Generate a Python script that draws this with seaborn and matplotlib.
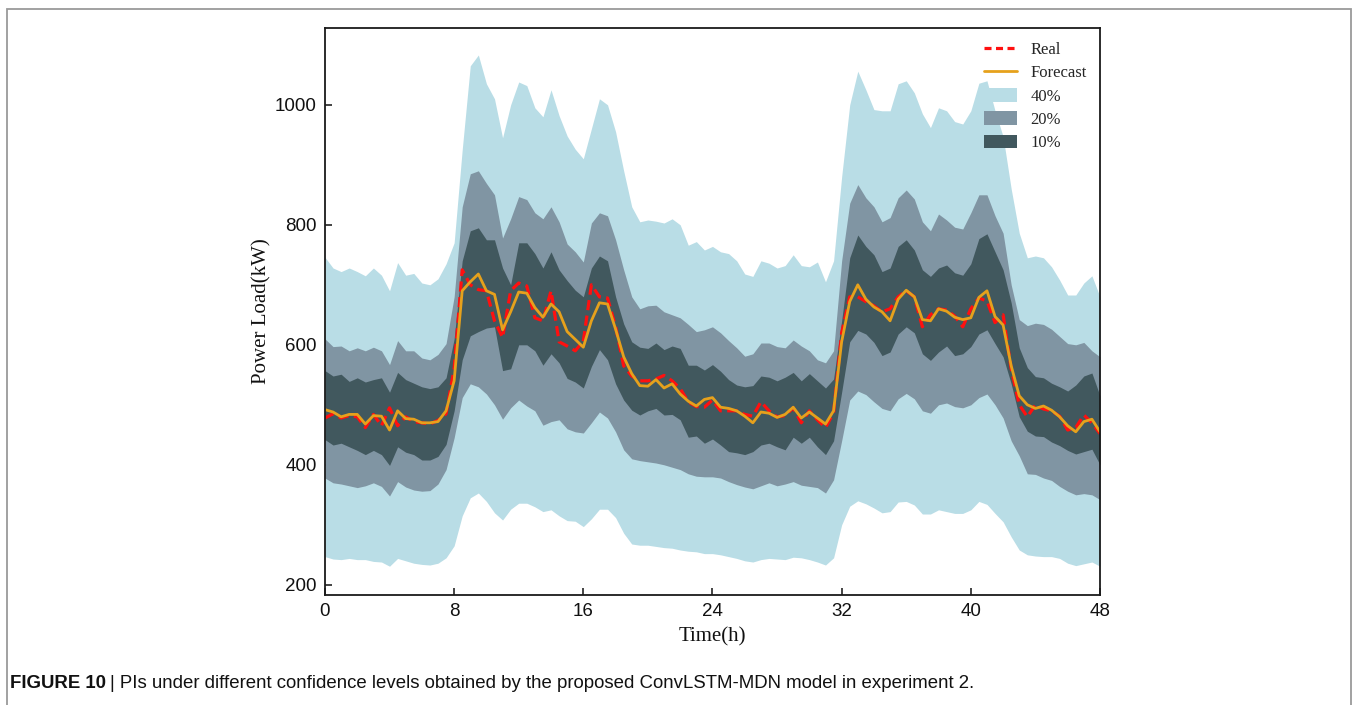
import numpy as np
import matplotlib
matplotlib.use("Agg")
import matplotlib.pyplot as plt
from matplotlib.patches import Patch, Rectangle
from matplotlib.lines import Line2D
import seaborn as sns

# Half-hourly time axis over two days
hours = np.arange(0, 48.5, 0.5)

real = [
    478, 485, 478, 482, 480, 462, 484, 465, 495, 465, 480, 472, 470, 468, 474, 485, 560, 725, 700, 692,
    690, 640, 612, 690, 703, 698, 645, 640, 690, 605, 598, 590, 606, 700, 680, 678, 630, 565, 548, 540,
    540, 543, 549, 540, 527, 505, 497, 496, 508, 490, 490, 490, 484, 481, 505, 490, 480, 482, 495, 470,
    490, 475, 462, 487, 620, 680, 680, 672, 665, 655, 660, 680, 690, 680, 630, 650, 660, 658, 648, 630,
    660, 678, 673, 637, 650, 560, 500, 480, 500, 493, 490, 481, 458, 462, 483, 470, 452,
]

forecast = [
    492, 488, 480, 484, 484, 468, 482, 481, 458, 490, 477, 476, 470, 470, 472, 490, 540, 690, 705, 718,
    690, 684, 625, 655, 688, 686, 662, 646, 668, 655, 622, 609, 596, 640, 670, 668, 626, 580, 552, 532,
    531, 542, 528, 535, 518, 506, 498, 509, 512, 496, 494, 490, 481, 470, 488, 486, 479, 484, 496, 478,
    488, 478, 468, 490, 605, 672, 700, 676, 663, 655, 640, 676, 691, 680, 642, 640, 660, 656, 646, 642,
    645, 679, 690, 647, 633, 565, 515, 500, 494, 498, 491, 480, 465, 455, 472, 476, 455,
]

# Prediction interval bounds
upper_40 = [
    746, 728, 722, 728, 722, 715, 728, 716, 690, 737, 716, 719, 703, 700, 710, 735, 770, 925, 1065, 1083,
    1035, 1010, 945, 1000, 1038, 1032, 995, 980, 1025, 982, 948, 926, 910, 960, 1010, 1000, 955, 890, 830, 805,
    808, 806, 803, 810, 800, 766, 772, 758, 764, 755, 752, 740, 718, 714, 740, 736, 728, 732, 750, 732,
    730, 738, 705, 740, 880, 1000, 1056, 1025, 992, 990, 990, 1035, 1040, 1020, 985, 962, 995, 990, 972, 968,
    990, 1036, 1040, 990, 947, 860, 786, 745, 748, 745, 730, 708, 683, 683, 703, 715, 680,
]
lower_40 = [
    247, 243, 242, 244, 242, 242, 239, 238, 231, 244, 240, 236, 234, 233, 236, 245, 265, 315, 345, 353,
    339, 320, 308, 326, 336, 336, 330, 322, 325, 315, 307, 306, 297, 310, 326, 326, 312, 286, 268, 266,
    266, 264, 262, 261, 258, 256, 255, 252, 252, 250, 247, 244, 240, 238, 242, 244, 243, 242, 246, 245,
    242, 238, 233, 245, 300, 331, 340, 335, 328, 320, 322, 338, 339, 333, 318, 318, 325, 322, 319, 319,
    325, 339, 334, 319, 305, 280, 258, 250, 248, 247, 247, 244, 236, 232, 235, 238, 231,
]
upper_20 = [
    610, 597, 598, 590, 595, 590, 596, 590, 567, 607, 590, 590, 578, 575, 584, 602, 680, 830, 885, 890,
    869, 850, 778, 810, 847, 842, 820, 810, 830, 805, 768, 755, 738, 803, 820, 815, 775, 725, 680, 660,
    665, 666, 655, 650, 645, 634, 622, 625, 630, 620, 607, 595, 581, 585, 603, 603, 597, 595, 608, 598,
    590, 575, 570, 590, 740, 836, 867, 845, 830, 805, 812, 845, 858, 843, 805, 790, 818, 808, 796, 793,
    820, 850, 850, 815, 786, 700, 642, 632, 636, 634, 626, 614, 602, 600, 604, 590, 580,
]
lower_20 = [
    378, 370, 368, 365, 362, 365, 370, 364, 348, 372, 363, 358, 356, 357, 368, 392, 445, 512, 535, 530,
    518, 500, 476, 495, 508, 498, 490, 466, 472, 475, 460, 455, 453, 470, 488, 478, 455, 425, 410, 407,
    405, 403, 400, 396, 392, 385, 381, 380, 380, 378, 372, 367, 363, 360, 365, 370, 365, 368, 372, 366,
    364, 362, 353, 375, 440, 508, 523, 517, 505, 494, 490, 510, 519, 510, 490, 486, 500, 503, 497, 495,
    500, 512, 518, 500, 478, 440, 415, 385, 384, 378, 374, 364, 356, 350, 352, 350, 342,
]
upper_10 = [
    557, 548, 551, 539, 545, 538, 542, 545, 521, 554, 542, 536, 530, 527, 530, 545, 610, 740, 790, 795,
    775, 775, 728, 700, 770, 770, 752, 728, 755, 725, 707, 691, 680, 728, 748, 740, 680, 635, 605, 596,
    594, 603, 592, 598, 594, 566, 566, 558, 567, 556, 542, 533, 530, 532, 548, 546, 540, 546, 554, 540,
    552, 540, 528, 543, 640, 745, 783, 764, 750, 722, 728, 764, 775, 758, 725, 714, 728, 733, 720, 716,
    735, 777, 785, 755, 725, 670, 595, 562, 547, 545, 536, 530, 523, 533, 548, 553, 515,
]
lower_10 = [
    442, 433, 436, 430, 424, 417, 424, 417, 399, 430, 421, 417, 408, 408, 414, 434, 490, 575, 615, 622,
    628, 630, 557, 560, 600, 600, 590, 566, 585, 570, 544, 538, 528, 564, 592, 575, 535, 508, 491, 483,
    490, 494, 483, 484, 475, 446, 448, 436, 443, 433, 422, 420, 417, 422, 433, 436, 430, 425, 446, 436,
    446, 430, 417, 440, 521, 605, 624, 618, 604, 582, 588, 618, 630, 620, 585, 574, 588, 598, 582, 585,
    597, 618, 625, 602, 580, 535, 480, 456, 448, 447, 438, 432, 424, 418, 422, 426, 400,
]

band_labels = ["40%", "20%", "10%"]
band_colors = ["#b9dde6", "#8095a3", "#41585e"]
x_ticks = [0, 8, 16, 24, 32, 40, 48]
y_ticks = [200, 400, 600, 800, 1000]

sns.set_theme(style="ticks")
sans_font = ["Liberation Sans", "DejaVu Sans"]
serif_font = ["Liberation Serif", "DejaVu Serif"]
plt.rcParams["font.family"] = sans_font

fig = plt.figure(figsize=(13.54, 7.05), dpi=100)
ax = fig.add_axes([0.2400, 0.156, 0.5724, 0.8043])

bands = [(lower_40, upper_40), (lower_20, upper_20), (lower_10, upper_10)]
for (lo, hi), color in zip(bands, band_colors):
    ax.fill_between(hours, lo, hi, color=color, linewidth=0)

sns.lineplot(x=hours, y=real, ax=ax, color="#ff1010", linewidth=2.3,
             dashes=False, legend=False)
ax.lines[-1].set_dashes((3.2, 1.7))
sns.lineplot(x=hours, y=forecast, ax=ax, color="#e6a11c", linewidth=2.0, legend=False)

ax.set_xlim(0, 48)
ax.set_ylim(183, 1128)
ax.set_xticks(x_ticks)
ax.set_yticks(y_ticks)
ax.tick_params(direction="in", length=5, width=1.1, labelsize=13.5, pad=6,
               colors="#111111")
for side in ["left", "right", "top", "bottom"]:
    ax.spines[side].set_color("#1a1a1a")
    ax.spines[side].set_linewidth(1.3)

ax.set_xlabel("Time(h)", fontfamily=serif_font, fontsize=15, labelpad=5, color="#111111")
ax.set_ylabel("Power Load(kW)", fontfamily=serif_font, fontsize=15, labelpad=2, color="#111111")

handles = [
    Line2D([0], [0], color="#ff1010", linewidth=2.3, dashes=(2.2, 1.4)),
    Line2D([0], [0], color="#e6a11c", linewidth=2.0),
] + [Patch(facecolor=c, edgecolor="none") for c in band_colors]
labels = ["Real", "Forecast"] + band_labels
ax.legend(handles, labels, loc="upper right", bbox_to_anchor=(1.0, 1.0), frameon=False,
          prop={"family": serif_font, "size": 12}, handlelength=2.0, handleheight=0.9,
          handletextpad=0.8, labelspacing=0.4, borderaxespad=0.4)

# Page frame around figure and caption
fig.patches.append(Rectangle((7 / 1354, -0.05), 1344 / 1354, 1.05 - 9 / 705,
                             transform=fig.transFigure, fill=False,
                             edgecolor="#9a9a9a", linewidth=1.3))

cap_y = 1 - 683 / 705
t1 = fig.text(10 / 1354, cap_y, "FIGURE 10", fontfamily=sans_font, fontweight="bold",
              fontsize=13.4, va="center", ha="left", color="#111111")
renderer = fig.canvas.get_renderer()
bb = t1.get_window_extent(renderer)
fig.text((bb.x1 + 4) / 1354, cap_y,
         "| PIs under different confidence levels obtained by the proposed ConvLSTM-MDN model in experiment 2.",
         fontfamily=sans_font, fontsize=13.4, va="center", ha="left", color="#111111")

fig.savefig("out.png", dpi=100)
